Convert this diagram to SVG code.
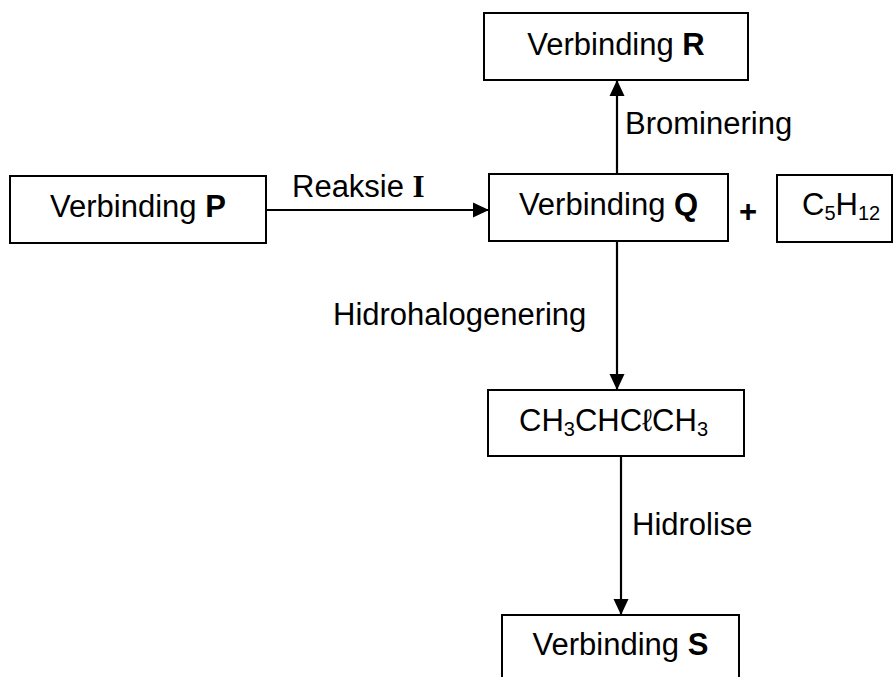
<svg xmlns="http://www.w3.org/2000/svg" width="894" height="677" viewBox="0 0 894 677">
<style>
.box{fill:#fff;stroke:#000;stroke-width:2}
.t{font-family:"Liberation Sans",Arial,sans-serif;font-size:31px;fill:#000}
.b{font-weight:bold}
.s{font-size:20px}
.line{stroke:#000;stroke-width:2.2;fill:none;marker-end:url(#ah)}
</style>
<defs>
<marker id="ah" markerUnits="userSpaceOnUse" markerWidth="16" markerHeight="16" viewBox="0 0 16 16" refX="16" refY="8" orient="auto">
<path d="M0,0.5 L16,8 L0,15.5 Z" fill="#000"/>
</marker>
</defs>
<g id="connectors">
<line class="line" x1="266" y1="210" x2="489" y2="210"/>
<line class="line" x1="617" y1="174" x2="617" y2="80"/>
<line class="line" x1="617" y1="242" x2="617" y2="390"/>
<line class="line" x1="621" y1="456" x2="621" y2="615"/>
<text class="t" x="292" y="197">Reaksie <tspan font-family="'Liberation Serif','Times New Roman',serif" font-weight="bold">I</tspan></text>
<text class="t" x="625" y="134">Brominering</text>
<text class="t" x="333" y="325">Hidrohalogenering</text>
<text class="t" x="632" y="535">Hidrolise</text>
</g>
<g id="nodeP">
<rect class="box" x="10" y="176" width="256" height="67"/>
<text class="t" x="138" y="217" text-anchor="middle">Verbinding <tspan class="b">P</tspan></text>
</g>
<g id="nodeR">
<rect class="box" x="484" y="13" width="264" height="67"/>
<text class="t" x="616" y="55" text-anchor="middle">Verbinding <tspan class="b">R</tspan></text>
</g>
<g id="nodeQ">
<rect class="box" x="489" y="174" width="239" height="67"/>
<text class="t" x="608.5" y="215" text-anchor="middle">Verbinding <tspan class="b">Q</tspan></text>
</g>
<g id="plus">
<text class="t b" x="748" y="222" text-anchor="middle" font-size="24">+</text>
</g>
<g id="nodeC5H12">
<rect class="box" x="777" y="175" width="115" height="67"/>
<text class="t" x="802" y="215">C<tspan class="s" dy="5">5</tspan><tspan dy="-5">H</tspan><tspan class="s" dy="5">12</tspan></text>
</g>
<g id="nodeCH3">
<rect class="box" x="488" y="390" width="256" height="66"/>
<text class="t" x="519" y="431">CH<tspan class="s" dy="5">3</tspan><tspan dy="-5">CHCℓCH</tspan><tspan class="s" dy="5">3</tspan></text>
</g>
<g id="nodeS">
<rect class="box" x="502" y="615" width="237" height="80"/>
<text class="t" x="620.5" y="655" text-anchor="middle">Verbinding <tspan class="b">S</tspan></text>
</g>
</svg>
